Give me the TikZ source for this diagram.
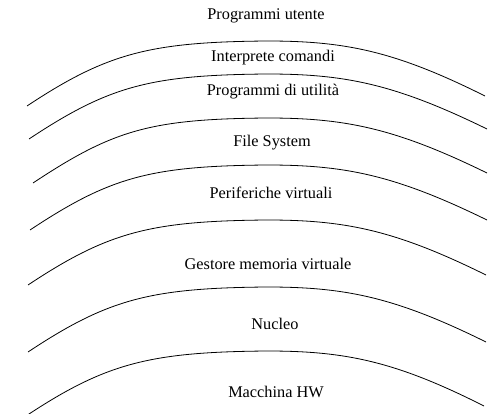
\documentclass[tikz,border=0pt]{standalone}
\usepackage{fontspec}
\setmainfont{Liberation Serif}
\newcommand\strato[3]{% #1 left x, #2 apex y, #3 right x
  \draw[layerline] (#1,#2+65) .. controls ({#1+80},#2+12) and (150,#2+1) .. (267,#2)
    .. controls (345,#2) and (395,#2+10) .. (#3,#2+55);}
\begin{document}
\begin{tikzpicture}[x=1pt,y=-1pt,
  layerline/.style={line width=0.8pt},
  lbl/.style={font=\fontsize{16.3}{19}\selectfont, inner sep=0pt}]
\useasboundingbox (0,0) rectangle (488,414);
\strato{27}{41}{485}
\strato{29}{74}{487}
\strato{33}{118}{487}
\strato{30}{165}{487}
\strato{28}{220}{486}
\strato{28}{287}{486}
\strato{26}{351}{484}
\node[lbl] (t1) at (266,16) {Programmi utente};
\node[lbl] (t2) at (273,58) {Interprete comandi};
\node[lbl] (t3) at (273,92) {Programmi di utilità};
\node[lbl] (t4) at (272,143) {File System};
\node[lbl] (t5) at (271,193) {Periferiche virtuali};
\node[lbl] (t6) at (268,264) {Gestore memoria virtuale};
\node[lbl] (t7) at (275,324) {Nucleo};
\node[lbl] (t8) at (276,392) {Macchina HW};
\end{tikzpicture}
\end{document}
